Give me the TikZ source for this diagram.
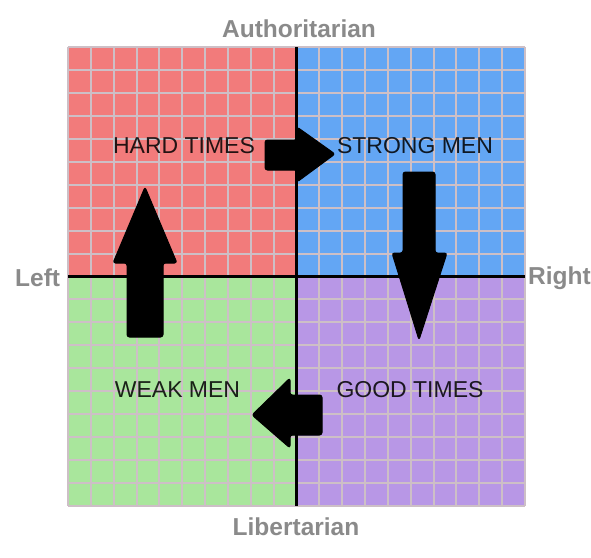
\documentclass[tikz,border=0pt]{standalone}
\usepackage{fontspec}
\setmainfont{Liberation Sans}
\definecolor{qred}{HTML}{F27B7B}
\definecolor{qblue}{HTML}{63A6F4}
\definecolor{qgreen}{HTML}{A9E69C}
\definecolor{qpurple}{HTML}{B897E6}
\definecolor{gridc}{HTML}{CDBFC6}
\definecolor{axlab}{HTML}{8A8A8A}
\tikzset{
  axislabel/.style={text=axlab, font=\fontsize{24.5}{26}\selectfont\bfseries, inner sep=0pt},
  quadtext/.style={text=black, text opacity=0.85, font=\fontsize{23}{25}\selectfont, inner sep=0pt, anchor=base},
  blockarrow/.style={fill=black, draw=black, line width=1pt, rounded corners=2.5pt, line join=round},
}
\begin{document}
\begin{tikzpicture}[x=1pt,y=-1pt]
\useasboundingbox (0,0) rectangle (591,557);
\fill[white] (0,0) rectangle (591,557);
% quadrants
\fill[qred] (68,47) rectangle (296.5,276.5);
\fill[qblue] (296.5,47) rectangle (525,276.5);
\fill[qgreen] (68,276.5) rectangle (296.5,506);
\fill[qpurple] (296.5,276.5) rectangle (525,506);
% grid
\foreach \i in {0,...,20} {
  \draw[gridc, line width=2pt] ({68+\i*22.85},47) -- ({68+\i*22.85},506);
  \draw[gridc, line width=2pt] (68,{47+\i*22.95}) -- (525,{47+\i*22.95});
}
% axes
\draw[black, line width=3pt] (296.5,47) -- (296.5,506);
\draw[black, line width=3pt] (68,276.5) -- (525,276.5);
% axis labels
\node[axislabel, anchor=base] (auth) at (299,37) {Authoritarian};
\node[axislabel, anchor=base] (lib) at (296,535) {Libertarian};
\node[axislabel, anchor=base west] (left) at (15,286) {Left};
\node[axislabel, anchor=base west] (right) at (528,284) {Right};
% quadrant texts
\node[quadtext] (hard) at (184,153) {HARD TIMES};
\node[quadtext] (strong) at (415,153) {STRONG MEN};
\node[quadtext] (weak) at (177.5,397) {WEAK MEN};
\node[quadtext] (good) at (410,397) {GOOD TIMES};
% block arrows
\draw[blockarrow] (265,140) -- (297,140) -- (297,127) -- (335,154) -- (297,182) -- (297,170) -- (265,170) -- cycle;
\draw[blockarrow] (403,172) -- (435,172) -- (435,253) -- (447,253) -- (419,340) -- (392,253) -- (403,253) -- cycle;
\draw[blockarrow] (322,395) -- (290,395) -- (290,378) -- (252,415) -- (290,448) -- (290,435) -- (322,435) -- cycle;
\draw[blockarrow] (127,337) -- (127,263) -- (113,263) -- (145,187) -- (177,263) -- (163,263) -- (163,337) -- cycle;
\end{tikzpicture}
\end{document}
